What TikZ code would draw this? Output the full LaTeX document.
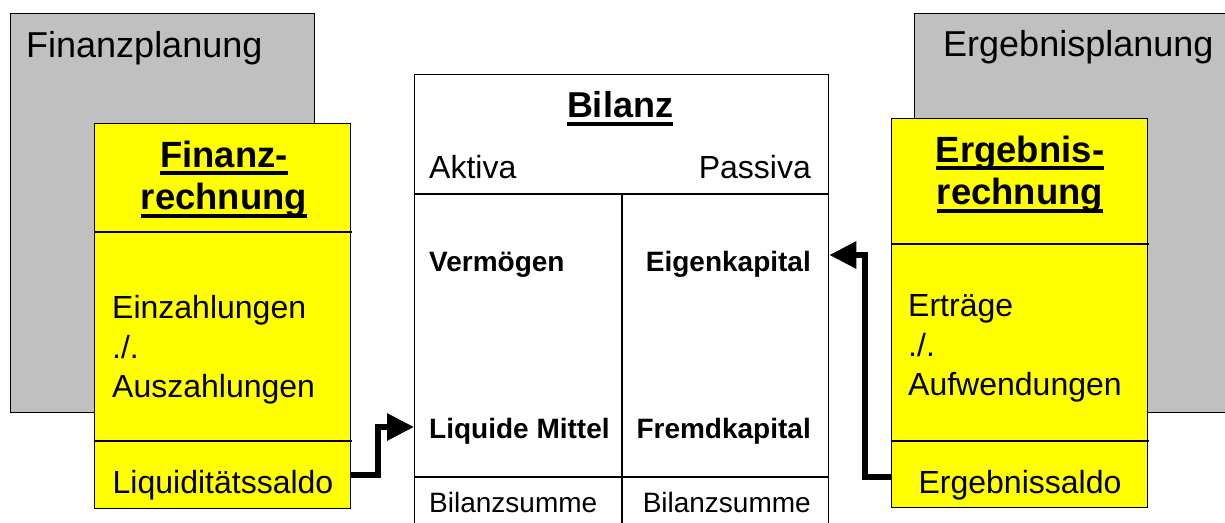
\documentclass[tikz,border=0pt]{standalone}
\usepackage{fontspec}
\setmainfont{Liberation Sans}
\usetikzlibrary{arrows.meta}
\definecolor{plangray}{HTML}{C0C0C0}
\definecolor{calcyellow}{HTML}{FFFF00}
\tikzset{
  box/.style={draw=black, line width=1.3pt, inner sep=0pt, anchor=north west},
  graybox/.style={box, fill=plangray},
  ybox/.style={box, fill=calcyellow},
  divider/.style={draw=black, line width=1.3pt},
  plantxt/.style={inner sep=0pt, font=\fontsize{36}{43}\selectfont},
  ttl/.style={inner sep=0pt, font=\fontsize{36.5}{43}\selectfont\bfseries},
  body/.style={inner sep=0pt, font=\fontsize{32}{39}\selectfont},
  bold28/.style={inner sep=0pt, font=\fontsize{28}{34}\selectfont\bfseries},
  reg28/.style={inner sep=0pt, font=\fontsize{28}{34}\selectfont},
  ul/.style={draw=black, line width=3.8pt},
  conn/.style={draw=black, line width=6pt, line join=miter, line cap=butt,
    -{Triangle[length=27pt,width=26pt]}}
}
\begin{document}
\begin{tikzpicture}[x=1pt,y=-1pt]
\useasboundingbox (0,0) rectangle (1225,522);
\clip (0,0) rectangle (1225,522);
\fill[white] (0,0) rectangle (1225,522);

% ---------- Finanzplanung ----------
\node[graybox, minimum width=304, minimum height=399] (fp) at (10,13) {};
\node[plantxt, anchor=base west] (fpt) at (26,57) {Finanzplanung};
\node[ybox, minimum width=256, minimum height=385] (fr) at (94,123) {};
\draw[divider] (94,232) -- (352,232);
\draw[divider] (94,441) -- (352,441);
\node[ttl, anchor=base] (ft1) at (224,167) {Finanz-};
\node[ttl, anchor=base] (ft2) at (224,209) {rechnung};
\draw[ul] ([yshift=-6pt]ft1.base west) -- ([yshift=-6pt]ft1.base east);
\draw[ul] ([yshift=-7pt]ft2.base west) -- ([yshift=-7pt]ft2.base east);
\node[body, anchor=base west] (fb1) at (112,318) {Einzahlungen};
\node[body, anchor=base west] (fb2) at (112,358) {./.};
\node[body, anchor=base west] (fb3) at (112,397) {Auszahlungen};
\node[body, anchor=base] (fsalt) at (223,493) {Liquiditätssaldo};

% ---------- Ergebnisplanung ----------
\node[graybox, minimum width=330, minimum height=399] (ep) at (914,13) {};
\node[plantxt, anchor=base west] (ept) at (943,56) {Ergebnisplanung};
\node[ybox, minimum width=256, minimum height=389] (er) at (891,118) {};
\draw[divider] (891,244) -- (1149,244);
\draw[divider] (891,441) -- (1149,441);
\node[ttl, anchor=base] (et1) at (1020,162) {Ergebnis-};
\node[ttl, anchor=base] (et2) at (1020,204) {rechnung};
\draw[ul] ([yshift=-6pt]et1.base west) -- ([yshift=-6pt]et1.base east);
\draw[ul] ([yshift=-7pt]et2.base west) -- ([yshift=-7pt]et2.base east);
\node[body, anchor=base west] (eb1) at (908,316) {Erträge};
\node[body, anchor=base west] (eb2) at (908,356) {./.};
\node[body, anchor=base west] (eb3) at (908,395) {Aufwendungen};
\node[body, anchor=base] (esalt) at (1020,493) {Ergebnissaldo};

% ---------- Bilanz ----------
\node[box, fill=white, minimum width=414, minimum height=470] (bil) at (414,74) {};
\draw[divider] (414,194) -- (828,194);
\draw[divider] (622,194) -- (622,540);
\draw[divider] (414,477) -- (828,477);
\node[ttl, font=\fontsize{36}{43}\selectfont\bfseries, anchor=base] (bt) at (620,117) {Bilanz};
\draw[ul] ([yshift=-7pt]bt.base west) -- ([yshift=-7pt]bt.base east);
\node[body, anchor=base west] (akt) at (429,178) {Aktiva};
\node[body, anchor=base east] (pas) at (811,178) {Passiva};
\node[bold28, anchor=base west] (verm) at (429,271) {Vermögen};
\node[bold28, anchor=base east] (ek) at (811,271) {Eigenkapital};
\node[bold28, anchor=base west] (lm) at (429,438) {Liquide Mittel};
\node[bold28, anchor=base east] (fk) at (811,438) {Fremdkapital};
\node[reg28, anchor=base west] (bs1) at (429,512) {Bilanzsumme};
\node[reg28, anchor=base east] (bs2) at (811,512) {Bilanzsumme};

% ---------- connectors ----------
\coordinate (fsal) at (fr.east |- 0,475);
\coordinate (lmin) at (bil.west |- 0,427);
\coordinate (esal) at (er.west |- 0,477);
\coordinate (ekin) at (bil.east |- 0,255);
\draw[conn] (fsal) -| (378,427) -- (lmin);
\draw[conn] (esal) -| (865,255) -- (ekin);
\end{tikzpicture}
\end{document}
